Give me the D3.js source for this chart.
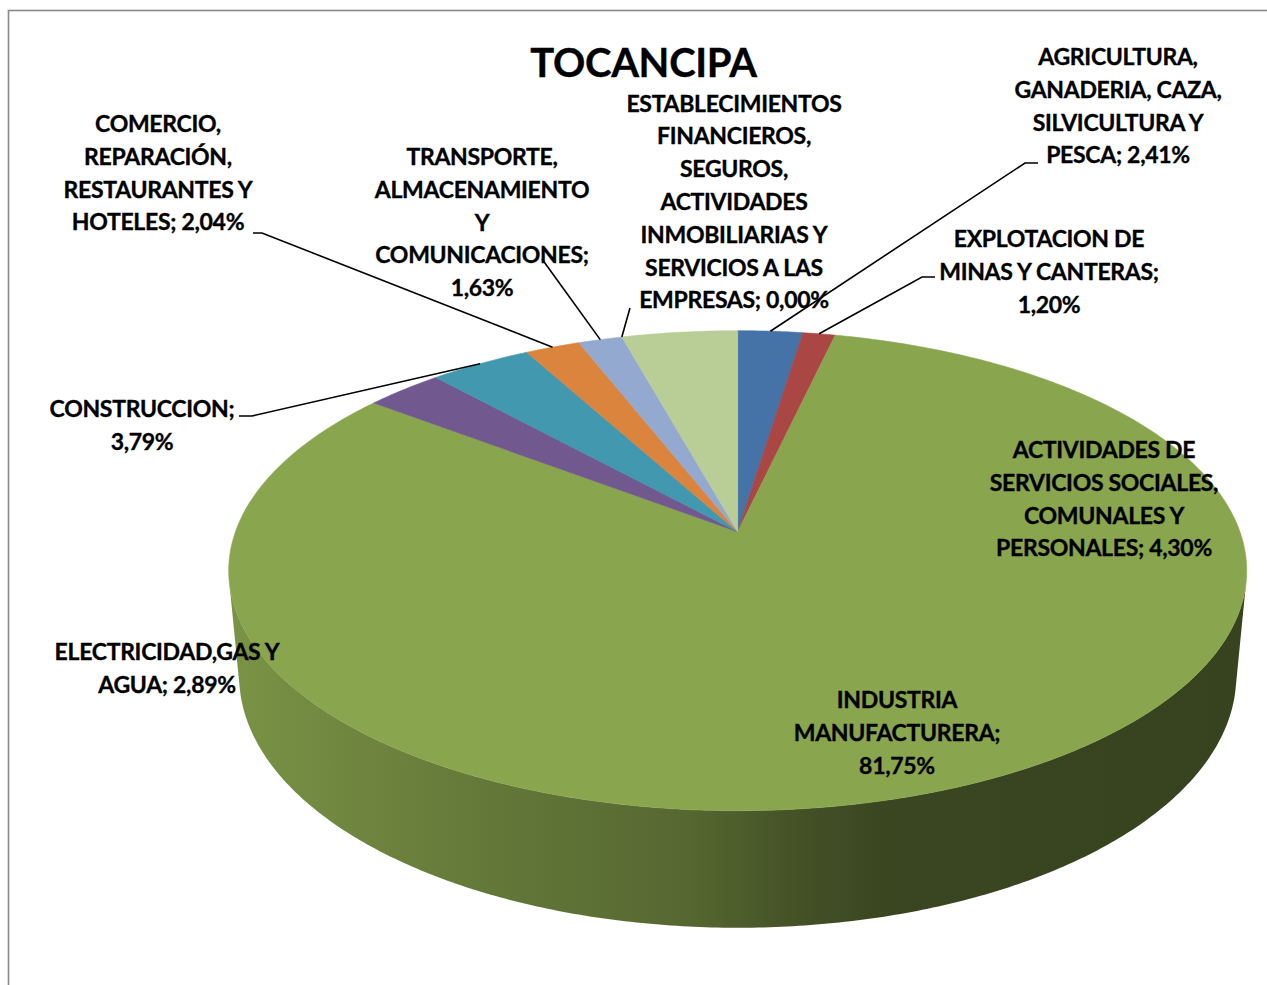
<!DOCTYPE html>
<html>
<head>
<meta charset="utf-8">
<script src="https://cdn.jsdelivr.net/npm/d3@7"></script>
<style>
  body { margin: 0; background: #fff; }
  svg { display: block; }
  text { font-family: Lato, "Open Sans", sans-serif; font-weight: bold; fill: #000; stroke: #000; stroke-width: 0.35px; }
</style>
</head>
<body>
<div id="chart"></div>
<script>
// Data
const categories = [
  'AGRICULTURA, GANADERIA, CAZA, SILVICULTURA Y PESCA',
  'EXPLOTACION DE MINAS Y CANTERAS',
  'INDUSTRIA MANUFACTURERA',
  'ELECTRICIDAD,GAS Y AGUA',
  'CONSTRUCCION',
  'COMERCIO, REPARACIÓN, RESTAURANTES Y HOTELES',
  'TRANSPORTE, ALMACENAMIENTO Y COMUNICACIONES',
  'ESTABLECIMIENTOS FINANCIEROS, SEGUROS, ACTIVIDADES INMOBILIARIAS Y SERVICIOS A LAS EMPRESAS',
  'ACTIVIDADES DE SERVICIOS SOCIALES, COMUNALES Y PERSONALES'
];
const values = [2.41, 1.20, 81.75, 2.89, 3.79, 2.04, 1.63, 0.00, 4.30];
const valueLabels = ['2,41%', '1,20%', '81,75%', '2,89%', '3,79%', '2,04%', '1,63%', '0,00%', '4,30%'];

// label text as broken into lines in the chart
const labelLines = [
  ['AGRICULTURA,', 'GANADERIA, CAZA,', 'SILVICULTURA Y', 'PESCA; 2,41%'],
  ['EXPLOTACION DE', 'MINAS Y CANTERAS;', '1,20%'],
  ['INDUSTRIA', 'MANUFACTURERA;', '81,75%'],
  ['ELECTRICIDAD,GAS Y', 'AGUA; 2,89%'],
  ['CONSTRUCCION;', '3,79%'],
  ['COMERCIO,', 'REPARACIÓN,', 'RESTAURANTES Y', 'HOTELES; 2,04%'],
  ['TRANSPORTE,', 'ALMACENAMIENTO', 'Y', 'COMUNICACIONES;', '1,63%'],
  ['ESTABLECIMIENTOS', 'FINANCIEROS,', 'SEGUROS,', 'ACTIVIDADES', 'INMOBILIARIAS Y', 'SERVICIOS A LAS', 'EMPRESAS; 0,00%'],
  ['ACTIVIDADES DE', 'SERVICIOS SOCIALES,', 'COMUNALES Y', 'PERSONALES; 4,30%']
];

const colors = ['#4572a7', '#aa4643', '#89a54e', '#71588f', '#4198af', '#db843d', '#93a9cf', '#a47d7c', '#b9cd96'];

// Label placement (centre x, first baseline, leader start points)
const labelLayout = [
  { x: 1118, y: 65, leader: [[1038, 163], [1025, 163]] },
  { x: 1049, y: 247, leader: [[935, 277], [922, 277]] },
  { x: 897, y: 708, leader: null },
  { x: 167, y: 660, leader: null },
  { x: 142, y: 417, leader: [[239, 416], [252, 416]] },
  { x: 158, y: 132, leader: [[253, 233], [262, 233]] },
  { x: 482, y: 165, leader: [[542, 259]] },
  { x: 734, y: 111.5, leader: [[630, 308]] },
  { x: 1104, y: 458, leader: null }
];

const width = 1267, height = 985;
const lineH = 32.8;

const svg = d3.select('#chart')
  .append('svg')
  .attr('width', width)
  .attr('height', height);

// chart frame
svg.append('rect')
  .attr('x', 8.5).attr('y', 10.5)
  .attr('width', 1300).attr('height', 1000)
  .attr('fill', 'none')
  .attr('stroke', '#8a8a8a')
  .attr('stroke-width', 1.6);

// perspective camera for the tilted pie
const cx = 737.7, cy = 531.7;
const F = 2735.6, S = 0.4652, C = Math.sqrt(1 - S * S), D = 5.447, DEPTH = 0.2387;

function project(theta, r, h) {
  const u = r * Math.sin(theta), v = -r * Math.cos(theta);
  const yc = v * S + h * C, zc = D - v * C + h * S;
  return [cx + F * u / zc, cy + F * yc / zc];
}

const pie = d3.pie().sort(null).value(d => d);
const arcs = pie(values);

function rim(a0, a1, h) {
  const n = Math.max(2, Math.ceil(Math.abs(a1 - a0) / 0.01));
  return d3.range(n + 1).map(i => project(a0 + (a1 - a0) * i / n, 1, h));
}

const line = d3.line();
const defs = svg.append('defs');

// side walls (only the front part faces the camera)
const silh = Math.acos(-1 / (D * C));
const visA = silh, visB = 2 * Math.PI - silh;
const shade = [[0, 0.89], [0.25, 0.73], [0.45, 0.63], [0.55, 0.5], [0.65, 0.42], [1, 0.4]];

const sides = svg.append('g').attr('class', 'sides');
arcs.forEach((d, i) => {
  const a0 = Math.max(d.startAngle, visA), a1 = Math.min(d.endAngle, visB);
  if (a1 <= a0) return;
  const grad = defs.append('linearGradient')
    .attr('id', 'side' + i)
    .attr('gradientUnits', 'userSpaceOnUse')
    .attr('x1', 229).attr('x2', 1247).attr('y1', 0).attr('y2', 0);
  const base = d3.rgb(colors[i]);
  shade.forEach(([o, k]) => {
    grad.append('stop')
      .attr('offset', o)
      .attr('stop-color', d3.rgb(base.r * k, base.g * k, base.b * k).formatHex());
  });
  const pts = rim(a0, a1, 0).concat(rim(a1, a0, DEPTH));
  sides.append('path')
    .attr('d', line(pts) + 'Z')
    .attr('fill', `url(#side${i})`);
});

// top faces
svg.append('g').attr('class', 'tops')
  .selectAll('path')
  .data(arcs.filter(d => d.value > 0))
  .enter()
  .append('path')
  .attr('d', d => line([[cx, cy]].concat(rim(d.startAngle, d.endAngle, 0))) + 'Z')
  .attr('fill', d => colors[d.index])
  .attr('stroke', d => colors[d.index])
  .attr('stroke-width', 0.6)
  .attr('stroke-linejoin', 'round');

// leader lines to the middle of each slice's outer rim
const leaders = svg.append('g').attr('class', 'leaders');
arcs.forEach((d, i) => {
  const lay = labelLayout[i];
  if (!lay.leader) return;
  const end = project((d.startAngle + d.endAngle) / 2, 1, 0);
  leaders.append('path')
    .attr('d', line(lay.leader.concat([end])))
    .attr('fill', 'none')
    .attr('stroke', '#000')
    .attr('stroke-width', 1.6);
});

// data labels
const labels = svg.append('g').attr('class', 'labels');
labelLines.forEach((lines, i) => {
  const lay = labelLayout[i];
  const t = labels.append('text')
    .attr('text-anchor', 'middle')
    .style('font-size', '23px')
    .style('letter-spacing', '-0.3px');
  lines.forEach((s, j) => {
    t.append('tspan')
      .attr('x', lay.x)
      .attr('y', lay.y + j * lineH)
      .text(s);
  });
});

// title
svg.append('text')
  .attr('x', 643.5)
  .attr('y', 77)
  .attr('text-anchor', 'middle')
  .style('font-size', '40px')
  .style('letter-spacing', '-0.3px')
  .text('TOCANCIPA');
</script>
</body>
</html>
